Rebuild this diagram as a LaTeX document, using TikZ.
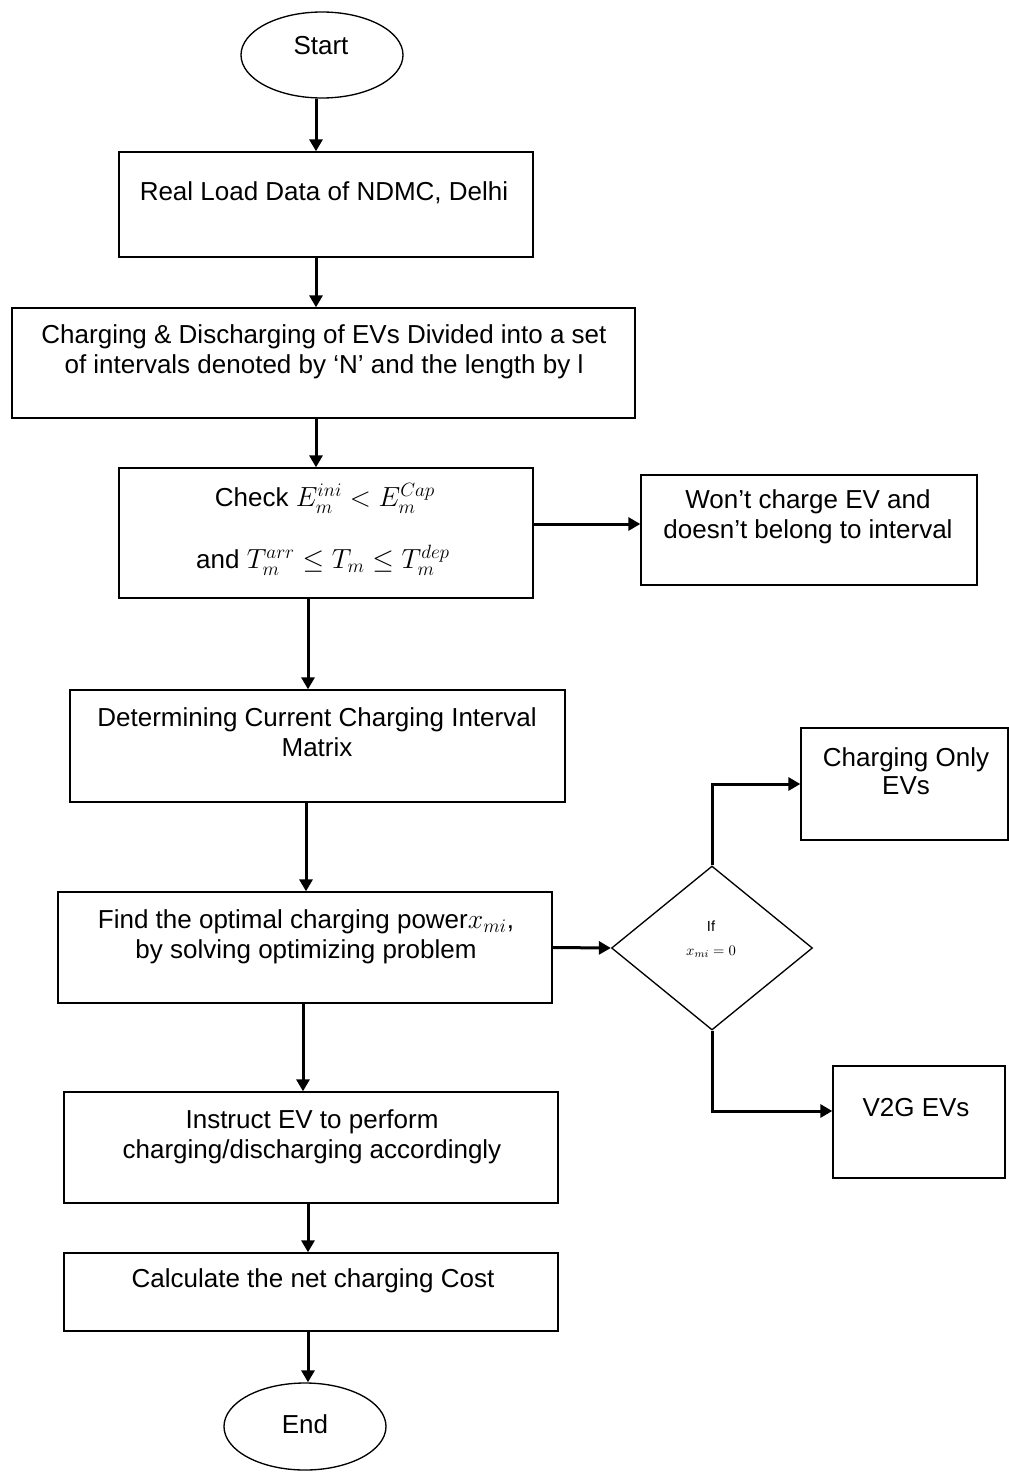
\documentclass[tikz,border=0pt]{standalone}
\usepackage{fontspec}
\setmainfont{Liberation Sans}
\usetikzlibrary{shapes.geometric,arrows.meta}

\tikzset{every picture/.style={line width=0.75pt}}
\tikzset{
  box/.style={draw, rectangle, line width=1pt, inner sep=0pt},
  oval/.style={draw, ellipse, line width=1pt, inner sep=0pt},
  decision/.style={draw, diamond, line width=1pt, inner sep=0pt},
  txt/.style={inner sep=0.75pt, align=center, font=\fontsize{19.5}{22.5}\selectfont},
  smalltxt/.style={inner sep=0.75pt, align=center, font=\fontsize{11}{18}\selectfont},
  arr/.style={line width=2.25pt, -{Triangle[length=9pt,width=9.75pt]}}
}

\begin{document}
\begin{tikzpicture}[x=0.75pt,y=0.75pt,yscale=-1,xscale=1]
\useasboundingbox (0,0) rectangle (1008,1474);

%Shapes: start and end
\node [oval, minimum width=121.5pt, minimum height=64.5pt] (start) at (322,55) {};
\node [oval, minimum width=121.5pt, minimum height=65.25pt] (stop) at (305,1426.5) {};

%Shapes: process boxes
\node [box, minimum width=310.5pt, minimum height=78.75pt] (load) at (326,204.5) {};
\node [box, minimum width=467.25pt, minimum height=82.5pt] (intervals) at (323.5,363) {};
\node [box, minimum width=310.5pt, minimum height=97.5pt] (check) at (326,533) {};
\node [box, minimum width=252pt, minimum height=82.5pt] (nocharge) at (809,530) {};
\node [box, minimum width=371.25pt, minimum height=84pt] (matrix) at (317.5,746) {};
\node [box, minimum width=370.5pt, minimum height=83.25pt] (optimal) at (305,947.5) {};
\node [box, minimum width=155.25pt, minimum height=84pt] (chargeonly) at (904.5,784) {};
\node [box, minimum width=129pt, minimum height=84pt] (vtog) at (919,1122) {};
\node [box, minimum width=370.5pt, minimum height=83.25pt] (instruct) at (311,1147.5) {};
\node [box, minimum width=370.5pt, minimum height=58.5pt] (cost) at (311,1292) {};

%Shape: decision
\node [decision, minimum width=150.75pt, minimum height=123pt] (ifzero) at (712,948) {};

% Text Nodes
\node [txt] (starttxt) at (321,46) {Start};
\node [txt] (stoptxt) at (305,1424) {End};
\node [txt] (loadtxt) at (324,193) {Real Load Data of NDMC, Delhi};
\node [txt] (intervalstxt) at (324,352) {Charging \& Discharging of EVs Divided into a set\\of intervals denoted by ‘N’ and the length by l};
\node [txt] (checktxt1) at (325,498) {Check $E_m^{ini} < E_m^{Cap}$};
\node [txt] (checktxt2) at (323,560) {and $T_m^{arr} \leq T_m \leq T_m^{dep}$};
\node [txt] (nochargetxt) at (808,516.5) {Won’t charge EV and\\doesn’t belong to interval};
\node [txt] (matrixtxt) at (317,732) {Determining Current Charging Interval\\Matrix};
\node [txt] (optimaltxt) at (306,937) {Find the optimal charging power$x_{mi}$,\\by solving optimizing problem};
\node [txt] (chargeonlytxt) at (906,771.5) {Charging Only\\[-1.5pt]EVs};
\node [txt] (vtogtxt) at (916,1108) {V2G EVs};
\node [txt] (instructtxt) at (312,1136.5) {Instruct EV to perform\\charging/discharging accordingly};
\node [txt] (costtxt) at (313,1281) {Calculate the net charging Cost};
\node [smalltxt] (iftxt) at (711,939) {If\\$x_{mi}=0$};

% Connectors
\draw [arr] ([xshift=-4.5pt]start.south) -- ([xshift=-7.5pt]load.north);
\draw [arr] ([xshift=-7.5pt]load.south) -- ([xshift=-5.625pt]intervals.north);
\draw [arr] ([xshift=-5.625pt]intervals.south) -- ([xshift=-7.5pt]check.north);
\draw [arr] ([xshift=-13.5pt]check.south) -- ([xshift=-7.125pt]matrix.north);
\draw [arr] ([xshift=-8.625pt]matrix.south) -- ([xshift=0.75pt]optimal.north);
\draw [arr] ([xshift=-1.5pt]optimal.south) -- ([xshift=-6pt]instruct.north);
\draw [arr] ([xshift=-2.25pt]instruct.south) -- ([xshift=-2.25pt]cost.north);
\draw [arr] ([xshift=-2.25pt]cost.south) -- ([xshift=2.25pt]stop.north);
\draw [arr] ([yshift=-6.75pt]check.east) coordinate (c1) -- (c1 -| nocharge.west);
\draw [arr] (optimal.east) -- (ifzero.west);
\draw [arr] (ifzero.north) |- (chargeonly.west);
\draw [arr] (ifzero.south) |- ([yshift=-8.25pt]vtog.west);
\end{tikzpicture}
\end{document}
